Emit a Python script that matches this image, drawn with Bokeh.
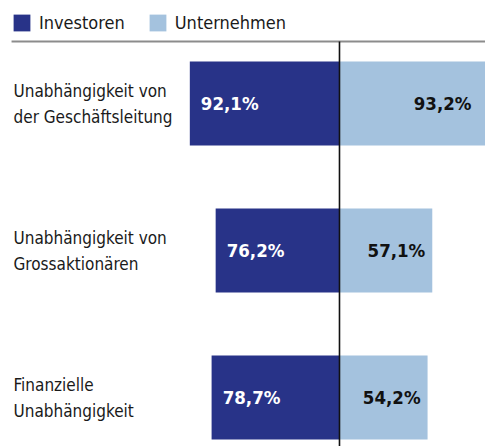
from bokeh.plotting import figure
from bokeh.models import Range1d, ColumnDataSource, Legend, LegendItem
from bokeh.core.properties import value
from bokeh.embed import file_html
from bokeh.resources import INLINE

categories = ["Unabhängigkeit von\nder Geschäftsleitung",
              "Unabhängigkeit von\nGrossaktionären",
              "Finanzielle\nUnabhängigkeit"]
investoren = [92.1, 76.2, 78.7]
unternehmen = [93.2, 57.1, 54.2]
inv_labels = ["92,1%", "76,2%", "78,7%"]
unt_labels = ["93,2%", "57,1%", "54,2%"]

FONT = "DejaVu Sans Condensed"
DARK = "#283388"
LIGHT = "#a4c2de"

XMIN, XMAX = -208.6, 89.85
YTOP, YBOT = -0.7007, 2.333
BAR_H = 0.571

pos = list(range(len(categories)))
src = ColumnDataSource(dict(
    y=pos,
    inv_left=[-v for v in investoren],
    inv=[0] * len(pos),
    unt=unternehmen,
    inv_lx=[-v + 6.8 for v in investoren],
    unt_lx=[min(v, XMAX - 4.3) - 4.3 for v in unternehmen],
    inv_lab=inv_labels,
    unt_lab=unt_labels,
    cat=categories,
    cat_x=[-200.6] * len(pos),
))

p = figure(width=485, height=446, output_backend="svg", toolbar_location=None,
           x_range=Range1d(XMIN, XMAX), y_range=Range1d(YBOT, YTOP),
           min_border=0, tools="")
p.axis.visible = False
p.grid.visible = False
p.outline_line_color = None

r_inv = p.hbar(y="y", left="inv_left", right="inv", height=BAR_H, source=src,
               fill_color=DARK, line_color=None)
r_unt = p.hbar(y="y", left=0, right="unt", height=BAR_H, source=src,
               fill_color=LIGHT, line_color=None)

# reference lines
p.segment(x0=[-201.8], y0=[-0.4218], x1=[XMAX], y1=[-0.4218],
          line_color="#8c8c8c", line_width=2)
p.segment(x0=[0], y0=[-0.4218], x1=[0], y1=[YBOT],
          line_color="#111111", line_width=1.6)

p.text(x="inv_lx", y="y", text="inv_lab", source=src, text_color="white",
       text_font=value(FONT), text_font_style="bold", text_font_size="18.5px",
       text_baseline="middle", text_align="left")
p.text(x="unt_lx", y="y", text="unt_lab", source=src, text_color="#111111",
       text_font=value(FONT), text_font_style="bold", text_font_size="18.5px",
       text_baseline="middle", text_align="right")
p.text(x="cat_x", y="y", text="cat", source=src, text_color="#1a1a1a",
       text_font=value(FONT), text_font_size="17px",
       text_baseline="middle", text_align="left", text_line_height=1.3)

legend = Legend(items=[LegendItem(label="Investoren", renderers=[r_inv]),
                       LegendItem(label="Unternehmen", renderers=[r_unt])],
                orientation="horizontal", location=(11, 413),
                glyph_width=21, glyph_height=21, label_height=21,
                label_standoff=7, spacing=22, padding=0, margin=0,
                border_line_color=None, background_fill_alpha=0,
                label_text_font=FONT, label_text_font_size="18px",
                label_text_color="#1a1a1a")
p.add_layout(legend, "center")

open("out.html", "w").write(file_html(p, INLINE))
